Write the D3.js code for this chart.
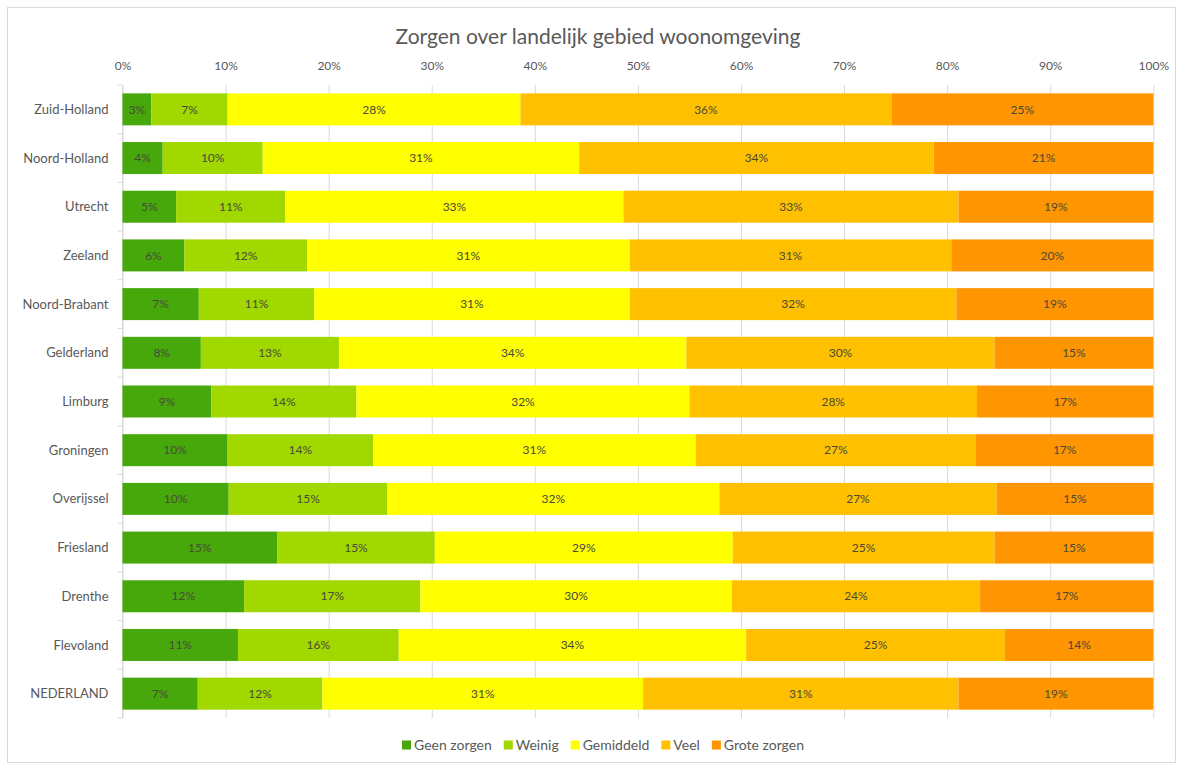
<!DOCTYPE html>
<html>
<head>
<meta charset="utf-8">
<script src="https://cdn.jsdelivr.net/npm/d3@7/dist/d3.min.js"></script>
<style>
  html, body { margin: 0; padding: 0; background: #fff; }
  svg { display: block; }
  text { font-family: Lato, "Open Sans", "Liberation Sans", sans-serif; }
</style>
</head>
<body>
<svg id="chart" width="1183" height="769"></svg>
<script>
const title = "Zorgen over landelijk gebied woonomgeving";
const categories = ["Zuid-Holland", "Noord-Holland", "Utrecht", "Zeeland", "Noord-Brabant", "Gelderland", "Limburg", "Groningen", "Overijssel", "Friesland", "Drenthe", "Flevoland", "NEDERLAND"];
const seriesNames = ["Geen zorgen", "Weinig", "Gemiddeld", "Veel", "Grote zorgen"];
const seriesColors = ["#47a80c", "#a0d800", "#ffff00", "#ffc000", "#ff9500"];
const geenZorgen = [2.8, 3.9, 5.2, 6.0, 7.4, 7.6, 8.6, 10.2, 10.3, 15.0, 11.8, 11.2, 7.3];
const weinig     = [7.4, 9.7, 10.6, 11.9, 11.2, 13.4, 14.1, 14.1, 15.4, 15.3, 17.1, 15.6, 12.1];
const gemiddeld  = [28.4, 30.7, 32.8, 31.3, 30.6, 33.7, 32.3, 31.3, 32.2, 28.9, 30.2, 33.7, 31.1];
const veel       = [36.0, 34.4, 32.5, 31.2, 31.7, 29.9, 27.9, 27.2, 26.9, 25.4, 24.1, 25.1, 30.6];
const groteZorgen= [25.4, 21.3, 18.9, 19.6, 19.1, 15.4, 17.1, 17.2, 15.2, 15.4, 16.8, 14.4, 18.9];
const tickValues = [0, 10, 20, 30, 40, 50, 60, 70, 80, 90, 100];

const seriesValues = [geenZorgen, weinig, gemiddeld, veel, groteZorgen];
const rows = categories.map((c, i) => {
  const r = { cat: c };
  seriesNames.forEach((s, k) => r[s] = seriesValues[k][i]);
  return r;
});
const stacked = d3.stack().keys(seriesNames)(rows);

const svg = d3.select("#chart");
const pLeft = 122.5, pRight = 1153.3, pTop = 85, pBottom = 718;

// chart border
svg.append("rect").attr("x", 7.5).attr("y", 7.5).attr("width", 1168).attr("height", 755)
  .attr("fill", "#fff").attr("stroke", "#d9d9d9").attr("stroke-width", 1);

const x = d3.scaleLinear().domain([0, 100]).range([pLeft, pRight]);
const y = d3.scaleBand().domain(categories).range([pTop, pBottom]).paddingInner(0.343).paddingOuter(0.1715);

// gridlines
svg.append("g").attr("transform", `translate(0,${pBottom})`)
  .call(d3.axisBottom(x).tickValues(tickValues).tickSize(-(pBottom - pTop)).tickFormat(""))
  .call(g => g.select(".domain").remove())
  .call(g => g.selectAll("line").attr("stroke", "#d9d9d9").attr("stroke-width", 1));

// top tick labels
svg.append("g").attr("transform", `translate(0,${pTop - 12})`)
  .call(d3.axisTop(x).tickValues(tickValues).tickSize(0).tickFormat(d => d + "%"))
  .call(g => g.select(".domain").remove())
  .call(g => g.selectAll("text").attr("fill", "#595959").attr("font-size", "12px")
    .style("font-family", "Lato, 'Open Sans', sans-serif"));

// left axis line and ticks at category boundaries
const ax = svg.append("g");
ax.append("line").attr("x1", pLeft).attr("x2", pLeft).attr("y1", pTop).attr("y2", pBottom)
  .attr("stroke", "#d9d9d9");
const bounds = categories.map(c => y(c) - y.step() * y.paddingInner() / 2).concat([pBottom]);
ax.selectAll("line.tk").data(bounds).join("line").attr("class", "tk")
  .attr("x1", pLeft - 5).attr("x2", pLeft).attr("y1", d => d).attr("y2", d => d)
  .attr("stroke", "#d9d9d9");

// category labels
svg.append("g").selectAll("text").data(categories).join("text")
  .attr("x", pLeft - 14).attr("y", d => y(d) + y.bandwidth() / 2)
  .attr("dy", "0.35em").attr("text-anchor", "end")
  .attr("fill", "#595959").attr("font-size", "13px").text(d => d);

// bars
const layers = svg.append("g").selectAll("g").data(stacked).join("g")
  .attr("fill", (d, i) => seriesColors[i]);
layers.selectAll("rect").data(d => d).join("rect")
  .attr("x", d => x(d[0])).attr("width", d => x(d[1]) - x(d[0]))
  .attr("y", d => y(d.data.cat)).attr("height", y.bandwidth());

// data labels
const lbl = svg.append("g").selectAll("g").data(stacked).join("g");
lbl.selectAll("text").data(d => d).join("text")
  .attr("x", d => (x(d[0]) + x(d[1])) / 2)
  .attr("y", d => y(d.data.cat) + y.bandwidth() / 2)
  .attr("dy", "0.35em").attr("text-anchor", "middle")
  .attr("fill", "#4a4a3a").attr("font-size", "12px")
  .text(d => Math.round(d[1] - d[0]) + "%");

// title
svg.append("text").attr("x", 598).attr("y", 44).attr("text-anchor", "middle")
  .attr("fill", "#595959").attr("font-size", "21px").text(title);

// legend
const leg = svg.append("g");
let cx = 0;
seriesNames.forEach((s, i) => {
  const g = leg.append("g").attr("transform", `translate(${cx},0)`);
  g.append("rect").attr("x", 0).attr("y", -4.5).attr("width", 9).attr("height", 9).attr("fill", seriesColors[i]);
  const t = g.append("text").attr("x", 12).attr("y", 0).attr("dy", "0.35em")
    .attr("fill", "#595959").attr("font-size", "14px").text(s);
  cx += 12 + t.node().getComputedTextLength() + 12;
});
const legW = cx - 12;
leg.attr("transform", `translate(${603 - legW / 2},745)`);
</script>
</body>
</html>
